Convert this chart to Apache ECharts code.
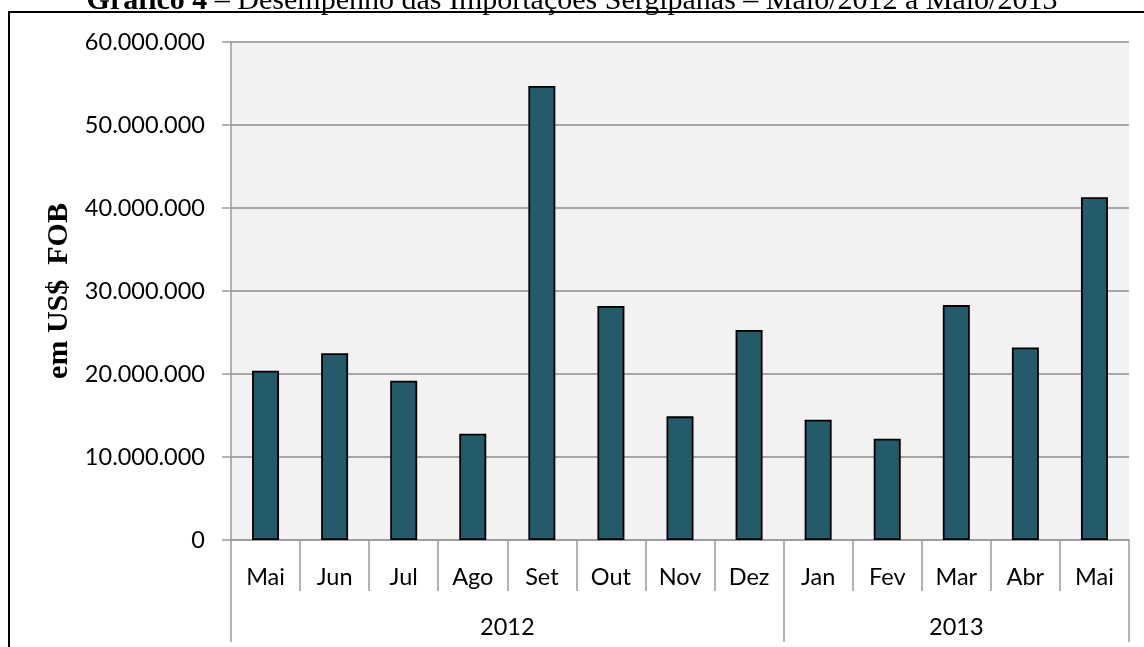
<!DOCTYPE html>
<html>
<head>
<meta charset="utf-8">
<script src="https://cdn.jsdelivr.net/npm/echarts@6/dist/echarts.min.js"></script>
<style>
  html, body { margin: 0; padding: 0; background: #fff; overflow: hidden; }
  #frame { position: absolute; left: 8px; top: 11px; width: 1300px; height: 800px;
           border-left: 2px solid #000; border-top: 2px solid #000; }
  #chart { position: absolute; left: 0; top: 0; width: 1144px; height: 647px; }
</style>
</head>
<body>
<div id="frame"></div>
<div id="chart"></div>
<script>
// meses (Mai/2012 a Mai/2013)
const months = ['Mai', 'Jun', 'Jul', 'Ago', 'Set', 'Out', 'Nov', 'Dez', 'Jan', 'Fev', 'Mar', 'Abr', 'Mai']
const monthYear = ['2012', '2012', '2012', '2012', '2012', '2012', '2012', '2012', '2013', '2013', '2013', '2013', '2013']
// importações em US$ FOB
const imports = [20400000, 22500000, 19200000, 12800000, 54700000, 28200000, 14900000, 25300000, 14500000, 12200000, 28300000, 23200000, 41300000]
const yTicks = [0, 10000000, 20000000, 30000000, 40000000, 50000000, 60000000]

// limites e centros dos grupos de anos
let years = []
let yearBounds = [0]
let yearCenters = []
let start = 0
for (let i = 1; i <= monthYear.length; i++) {
  if (i === monthYear.length || monthYear[i] !== monthYear[i - 1]) {
    years.push(monthYear[i - 1])
    yearBounds.push(i)
    yearCenters.push((start + i) / 2)
    start = i
  }
}

function fmt (v) {
  return String(v).replace(/\B(?=(\d{3})+(?!\d))/g, '.')
}

const gray = '#9a9a9a'
const labelFont = 'Lato, "Open Sans", sans-serif'

let chart = echarts.init(document.getElementById('chart'))
let option = {
  animation: false,
  title: {
    text: '{b|Gráfico 4} – Desempenho das Importações Sergipanas – Maio/2012 a Maio/2013',
    left: 'center',
    top: -19,
    textStyle: {
      fontFamily: '"Liberation Serif", serif',
      fontSize: 30,
      fontWeight: 'normal',
      color: '#000',
      rich: {
        b: { fontFamily: '"Liberation Serif", serif', fontSize: 30, fontWeight: 'bold', color: '#000' }
      }
    }
  },
  grid: {
    left: 231,
    right: 15,
    top: 42,
    bottom: 107,
    show: true,
    backgroundColor: '#f2f2f2',
    borderWidth: 0
  },
  xAxis: [
    {
      type: 'category',
      data: months,
      position: 'bottom',
      axisLine: { show: true, lineStyle: { color: gray, width: 1.5 } },
      axisTick: { show: true, interval: 0, length: 51, lineStyle: { color: gray, width: 1.5 } },
      axisLabel: { interval: 0, margin: 25, fontSize: 23.5, fontFamily: labelFont, color: '#000' }
    },
    {
      type: 'value',
      min: 0,
      max: months.length,
      position: 'bottom',
      axisLine: { show: false },
      splitLine: { show: false },
      axisTick: { show: true, length: 102, customValues: yearBounds, lineStyle: { color: gray, width: 1.5 } },
      axisLabel: {
        customValues: yearCenters,
        margin: 75,
        fontSize: 23.5,
        fontFamily: labelFont,
        color: '#000',
        formatter: function (v) {
          let idx = yearCenters.indexOf(v)
          return idx >= 0 ? years[idx] : ''
        }
      }
    }
  ],
  yAxis: {
    type: 'value',
    min: yTicks[0],
    max: yTicks[yTicks.length - 1],
    interval: yTicks[1] - yTicks[0],
    name: 'em US$  FOB',
    nameLocation: 'middle',
    nameGap: 156,
    nameTextStyle: { fontFamily: '"Liberation Serif", serif', fontSize: 30, fontWeight: 'bold', color: '#000' },
    axisLine: { show: true, lineStyle: { color: gray, width: 1.5 } },
    axisTick: { show: true, length: 9, lineStyle: { color: gray, width: 1.5 } },
    axisLabel: { margin: 26, fontSize: 23.5, fontFamily: labelFont, color: '#000', formatter: fmt },
    splitLine: { show: true, lineStyle: { color: '#8c8c8c', width: 1.5 } }
  },
  series: [
    {
      type: 'bar',
      xAxisIndex: 0,
      data: imports,
      barWidth: 27,
      itemStyle: { color: '#235b6a', borderColor: '#000', borderWidth: 1.8 }
    }
  ]
}
chart.setOption(option)
</script>
</body>
</html>
